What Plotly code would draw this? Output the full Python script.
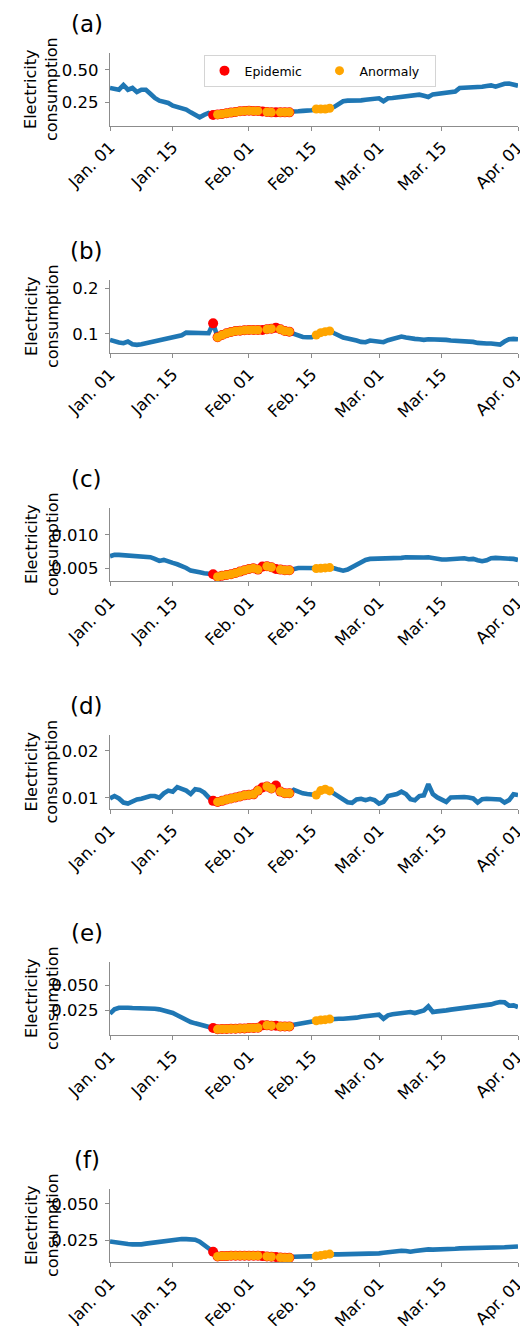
import pandas as pd
import plotly.graph_objects as go

# ---------------- data ----------------
start_date = "2020-01-01"
n_days = 92
epidemic_idx = list(range(23, 41))                    # Jan 24 - Feb 10
anomaly_idx = list(range(24, 34)) + [35, 36, 38, 39, 40, 46, 47, 48, 49]

panel_labels = ["(a)", "(b)", "(c)", "(d)", "(e)", "(f)"]

series_a = [0.360, 0.355, 0.347, 0.383, 0.347, 0.360, 0.329, 0.347, 0.347, 0.316,
            0.283, 0.263, 0.253, 0.245, 0.224, 0.214, 0.202, 0.194, 0.173, 0.156,
            0.135, 0.153, 0.168, 0.153, 0.156, 0.161, 0.166, 0.171, 0.176, 0.181,
            0.184, 0.186, 0.184, 0.184, 0.179, 0.176, 0.173, 0.173, 0.173, 0.173,
            0.173, 0.176, 0.181, 0.184, 0.186, 0.189, 0.199, 0.199, 0.199, 0.204,
            0.214, 0.240, 0.258, 0.263, 0.263, 0.260, 0.265, 0.270, 0.273, 0.278,
            0.281, 0.258, 0.281, 0.283, 0.288, 0.291, 0.296, 0.298, 0.306, 0.309,
            0.301, 0.291, 0.311, 0.316, 0.321, 0.327, 0.327, 0.332, 0.360, 0.362,
            0.360, 0.360, 0.362, 0.370, 0.375, 0.380, 0.370, 0.385, 0.393, 0.395,
            0.390, 0.378]

series_b = [0.0869, 0.0832, 0.0810, 0.0796, 0.0832, 0.0774, 0.0759, 0.0774, 0.0796, 0.0825,
            0.0854, 0.0869, 0.0883, 0.0898, 0.0942, 0.0942, 0.0971, 0.1029, 0.1022, 0.1029,
            0.1029, 0.1000, 0.1015, 0.1234, 0.0927, 0.0978, 0.1015, 0.1044, 0.1066, 0.1073,
            0.1080, 0.1088, 0.1088, 0.1088, 0.1088, 0.1102, 0.1117, 0.1139, 0.1102, 0.1066,
            0.1051, 0.1000, 0.0956, 0.0934, 0.0927, 0.0927, 0.0978, 0.1029, 0.1051, 0.1066,
            0.1015, 0.0956, 0.0920, 0.0898, 0.0883, 0.0854, 0.0825, 0.0818, 0.0854, 0.0840,
            0.0818, 0.0818, 0.0861, 0.0891, 0.0920, 0.0942, 0.0920, 0.0898, 0.0891, 0.0883,
            0.0869, 0.0883, 0.0883, 0.0883, 0.0869, 0.0869, 0.0854, 0.0847, 0.0847, 0.0840,
            0.0847, 0.0825, 0.0803, 0.0788, 0.0788, 0.0788, 0.0781, 0.0766, 0.0832, 0.0883,
            0.0891, 0.0883]

series_c = [0.00680, 0.00700, 0.00700, 0.00695, 0.00690, 0.00685, 0.00680, 0.00670, 0.00675, 0.00665,
            0.00640, 0.00610, 0.00625, 0.00610, 0.00580, 0.00560, 0.00540, 0.00505, 0.00465, 0.00445,
            0.00440, 0.00425, 0.00415, 0.00410, 0.00375, 0.00390, 0.00400, 0.00410, 0.00430, 0.00450,
            0.00470, 0.00490, 0.00500, 0.00480, 0.00525, 0.00530, 0.00515, 0.00490, 0.00480, 0.00470,
            0.00470, 0.00495, 0.00505, 0.00505, 0.00505, 0.00505, 0.00495, 0.00500, 0.00505, 0.00510,
            0.00500, 0.00480, 0.00465, 0.00480, 0.00515, 0.00555, 0.00600, 0.00625, 0.00640, 0.00640,
            0.00640, 0.00640, 0.00645, 0.00650, 0.00640, 0.00655, 0.00665, 0.00660, 0.00655, 0.00660,
            0.00660, 0.00665, 0.00650, 0.00635, 0.00630, 0.00630, 0.00635, 0.00640, 0.00635, 0.00650,
            0.00635, 0.00640, 0.00620, 0.00605, 0.00620, 0.00650, 0.00655, 0.00655, 0.00645, 0.00640,
            0.00640, 0.00625]

series_d = [0.00985, 0.01036, 0.00985, 0.00898, 0.00876, 0.00927, 0.00964, 0.00978, 0.01007, 0.01036,
            0.01036, 0.01000, 0.01095, 0.01153, 0.01131, 0.01226, 0.01190, 0.01153, 0.01080, 0.01182,
            0.01168, 0.01109, 0.01007, 0.00934, 0.00912, 0.00934, 0.00964, 0.00985, 0.01007, 0.01029,
            0.01051, 0.01066, 0.01073, 0.01153, 0.01219, 0.01241, 0.01197, 0.01263, 0.01131, 0.01095,
            0.01095, 0.01168, 0.01124, 0.01095, 0.01080, 0.01058, 0.01058, 0.01153, 0.01182, 0.01146,
            0.01080, 0.01022, 0.00971, 0.00905, 0.00891, 0.00964, 0.00978, 0.00949, 0.00978, 0.00949,
            0.00876, 0.00912, 0.01036, 0.01058, 0.01080, 0.01131, 0.01080, 0.00971, 0.00949, 0.01036,
            0.01051, 0.01292, 0.01080, 0.01007, 0.00949, 0.00912, 0.01007, 0.01015, 0.01015, 0.01015,
            0.01007, 0.00985, 0.00898, 0.00971, 0.00978, 0.00978, 0.00971, 0.00964, 0.00898, 0.00949,
            0.01073, 0.01058]

series_e = [0.0217, 0.0260, 0.0276, 0.0280, 0.0276, 0.0273, 0.0273, 0.0273, 0.0273, 0.0266,
            0.0266, 0.0260, 0.0250, 0.0237, 0.0224, 0.0201, 0.0178, 0.0151, 0.0135, 0.0122,
            0.0109, 0.0095, 0.0086, 0.0076, 0.0063, 0.0066, 0.0066, 0.0069, 0.0069, 0.0072,
            0.0072, 0.0076, 0.0076, 0.0079, 0.0102, 0.0102, 0.0099, 0.0099, 0.0092, 0.0092,
            0.0092, 0.0109, 0.0118, 0.0125, 0.0135, 0.0141, 0.0148, 0.0155, 0.0158, 0.0164,
            0.0168, 0.0168, 0.0168, 0.0168, 0.0168, 0.0178, 0.0188, 0.0194, 0.0201, 0.0201,
            0.0207, 0.0168, 0.0201, 0.0211, 0.0214, 0.0224, 0.0227, 0.0234, 0.0224, 0.0234,
            0.0250, 0.0289, 0.0234, 0.0240, 0.0250, 0.0250, 0.0257, 0.0263, 0.0266, 0.0273,
            0.0276, 0.0280, 0.0286, 0.0293, 0.0299, 0.0309, 0.0322, 0.0332, 0.0329, 0.0296,
            0.0299, 0.0283]

series_f = [0.0245, 0.0239, 0.0234, 0.0230, 0.0227, 0.0225, 0.0223, 0.0225, 0.0230, 0.0234,
            0.0239, 0.0243, 0.0248, 0.0252, 0.0259, 0.0261, 0.0261, 0.0261, 0.0261, 0.0257,
            0.0243, 0.0223, 0.0198, 0.0175, 0.0143, 0.0145, 0.0145, 0.0148, 0.0148, 0.0148,
            0.0148, 0.0148, 0.0148, 0.0148, 0.0145, 0.0143, 0.0141, 0.0139, 0.0136, 0.0134,
            0.0134, 0.0141, 0.0141, 0.0143, 0.0143, 0.0145, 0.0145, 0.0150, 0.0155, 0.0159,
            0.0157, 0.0157, 0.0157, 0.0157, 0.0157, 0.0159, 0.0161, 0.0161, 0.0164, 0.0164,
            0.0164, 0.0168, 0.0173, 0.0175, 0.0180, 0.0182, 0.0180, 0.0175, 0.0180, 0.0184,
            0.0189, 0.0191, 0.0189, 0.0189, 0.0191, 0.0193, 0.0195, 0.0195, 0.0198, 0.0198,
            0.0198, 0.0198, 0.0198, 0.0200, 0.0200, 0.0200, 0.0202, 0.0202, 0.0205, 0.0207,
            0.0209, 0.0211]

all_series = [series_a, series_b, series_c, series_d, series_e, series_f]

y_ranges = [[0.068, 0.629], [0.058, 0.219], [0.0031, 0.0140],
            [0.0076, 0.0234], [0.0007, 0.0727], [0.0105, 0.0602]]
y_tickvals = [[0.25, 0.50], [0.1, 0.2], [0.005, 0.010],
              [0.01, 0.02], [0.025, 0.050], [0.025, 0.050]]
y_ticktext = [["0.25", "0.50"], ["0.1", "0.2"], ["0.005", "0.010"],
              ["0.01", "0.02"], ["0.025", "0.050"], ["0.025", "0.050"]]

x_tickvals = ["2020-01-01", "2020-01-15", "2020-02-01", "2020-02-15",
              "2020-03-01", "2020-03-15", "2020-04-01"]
x_ticktext = ["Jan. 01", "Jan. 15", "Feb. 01", "Feb. 15", "Mar. 01", "Mar. 15", "Apr. 01"]

y_title = "Electricity<br>consumption"
legend_names = ["Epidemic", "Anormaly"]

# ---------------- layout geometry (page pixels) ----------------
OFF = 8                      # default body margin of the html page
W, H = 528 - OFF, 1326 - OFF
plot_left, plot_right = 110, 518
panel_tops = [53, 280, 508, 735, 962, 1189]
panel_bottoms = [126, 353, 581, 809, 1035, 1262]


def px_x(x):
    return (x - OFF) / W


def px_y(y):
    return 1 - (y - OFF) / H


FONT = "DejaVu Sans"
BLUE = "#1f77b4"
SPINE = "#8c8c8c"

dates = pd.date_range(start_date, periods=n_days, freq="D")

fig = go.Figure()
annotations = []
layout_axes = {}

for i, vals in enumerate(all_series):
    k = "" if i == 0 else str(i + 1)
    xa, ya = "x" + k, "y" + k
    s = pd.Series(vals, index=dates)
    fig.add_trace(go.Scatter(x=dates, y=vals, mode="lines",
                             line=dict(color=BLUE, width=4.6),
                             showlegend=False, xaxis=xa, yaxis=ya, hoverinfo="skip"))
    ep = s.iloc[epidemic_idx]
    fig.add_trace(go.Scatter(x=ep.index, y=ep.values, mode="markers",
                             marker=dict(color="red", size=10),
                             name=legend_names[0], showlegend=(i == 0),
                             xaxis=xa, yaxis=ya))
    an = s.iloc[anomaly_idx]
    fig.add_trace(go.Scatter(x=an.index, y=an.values, mode="markers",
                             marker=dict(color="orange", size=9),
                             name=legend_names[1], showlegend=(i == 0),
                             xaxis=xa, yaxis=ya))

    y0 = px_y(panel_bottoms[i])
    y1 = px_y(panel_tops[i])
    layout_axes["xaxis" + k] = dict(
        domain=[px_x(plot_left), px_x(plot_right)], anchor=ya, type="date",
        range=["2020-01-01", "2020-04-01"], tickvals=x_tickvals, ticktext=x_ticktext,
        tickangle=-45, showgrid=False, zeroline=False, showline=True, automargin=False,
        linecolor=SPINE, linewidth=1.2, ticks="outside", ticklen=4, tickcolor=SPINE,
        tickfont=dict(family=FONT, size=16.5, color="black"))
    layout_axes["yaxis" + k] = dict(
        domain=[y0, y1], anchor=xa, range=y_ranges[i],
        tickvals=y_tickvals[i], ticktext=y_ticktext[i], automargin=False,
        showgrid=False, zeroline=False, showline=True,
        linecolor=SPINE, linewidth=1.2, ticks="outside", ticklen=4, tickcolor=SPINE,
        ticklabelstandoff=3,
        tickfont=dict(family=FONT, size=16.5, color="black"))

    annotations.append(dict(text=y_title, x=px_x(41.5), y=(y0 + y1) / 2,
                            xref="paper", yref="paper", xanchor="center", yanchor="middle",
                            textangle=-90, showarrow=False,
                            font=dict(family=FONT, size=16, color="black")))
    annotations.append(dict(text=panel_labels[i], x=px_x(86.5),
                            y=px_y(panel_tops[i] - 29),
                            xref="paper", yref="paper", xanchor="center", yanchor="middle",
                            showarrow=False,
                            font=dict(family=FONT, size=23, color="black")))

fig.update_layout(
    width=W, height=H, margin=dict(l=0, r=0, t=0, b=0, autoexpand=False),
    paper_bgcolor="white", plot_bgcolor="white",
    font=dict(family=FONT, color="black"),
    annotations=annotations,
    legend=dict(orientation="h", x=px_x(203.5), y=px_y(55), xanchor="left", yanchor="top",
                bgcolor="rgba(255,255,255,0.85)", bordercolor="#d4d4d4", borderwidth=1,
                font=dict(family=FONT, size=12.5, color="black"),
                entrywidth=70, entrywidthmode="pixels"),
    **layout_axes,
)

fig.write_html("out.html")
